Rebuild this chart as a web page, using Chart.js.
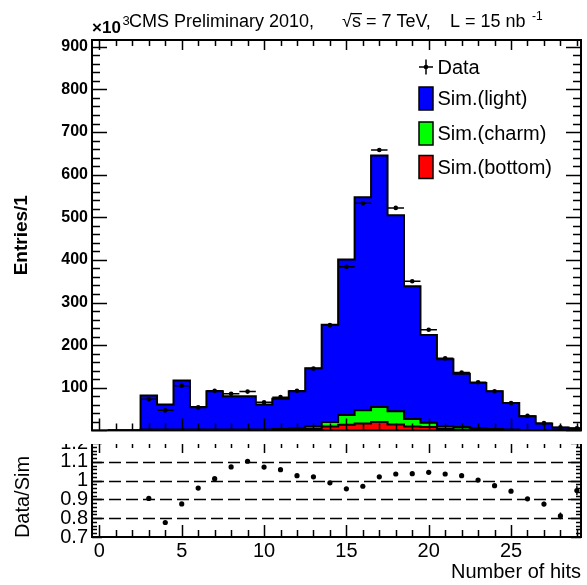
<!DOCTYPE html>
<html>
<head>
<meta charset="utf-8">
<script src="https://cdn.jsdelivr.net/npm/chart.js@4.4.0/dist/chart.umd.min.js"></script>
<style>
  body { margin: 0; background: #fff; }
  #wrap { position: relative; width: 587px; height: 585px; }
  canvas { position: absolute; left: 0; top: 0; }
  #ratio { z-index: 1; }
  #hits { z-index: 2; background: #fff; }
</style>
</head>
<body>
<div id="wrap">
  <canvas id="ratio" width="587" height="585"></canvas>
  <canvas id="hits" width="587" height="444"></canvas>
</div>
<script>
const FONT = "'Liberation Sans', Arial, sans-serif";
Chart.defaults.font.family = FONT;
Chart.defaults.color = '#000';

// number of hits, one bin per integer
const hitBins = [1, 2, 3, 4, 5, 6, 7, 8, 9, 10, 11, 12, 13, 14, 15, 16, 17, 18, 19, 20, 21, 22, 23, 24, 25, 26, 27, 28, 29];
// simulated entries (x10^3), split by flavour
const simLight = [0, 0, 80, 59, 115, 53, 90, 78, 78, 59, 71, 87, 137, 228, 365, 500, 590, 460, 311, 206, 158, 125, 106, 89, 62, 32, 16, 7, 5];
const simCharm = [0, 0, 1, 1, 1, 1, 1, 1, 1, 1, 2, 3, 6, 11, 23, 31, 35, 31, 18, 10, 6, 6, 4, 2, 1, 1, 0, 0, 0];
const simBottom = [0, 0, 1, 1, 1, 1, 1, 1, 1, 1, 1, 2, 3, 9, 13, 16, 20, 14, 9, 8, 3, 2, 1, 1, 1, 0, 0, 0, 0];

// measured entries (x10^3)
const dataBins = [3, 4, 5, 6, 7, 8, 9, 10, 11, 12, 13, 14, 15, 16, 17, 18, 19, 20, 21, 22, 23, 24, 25, 26, 27, 28, 29];
const dataCounts = [73, 47, 105, 54, 93, 86, 91, 66, 78, 93, 145, 247, 384, 533, 658, 522, 350, 236, 169, 136, 113, 92, 64, 34, 17, 7, 5];

// data / simulation
const ratioVals = [0.905, 0.777, 0.876, 0.96, 1.01, 1.073, 1.103, 1.072, 1.058, 1.026, 1.02, 0.988, 0.956, 0.97, 1.02, 1.035, 1.037, 1.044, 1.035, 1.026, 1.003, 0.973, 0.944, 0.903, 0.875, 0.812, 0.947];
const ratioErr = [0.006, 0.007, 0.006, 0.007, 0.006, 0.006, 0.006, 0.006, 0.006, 0.006, 0.005, 0.004, 0.003, 0.003, 0.003, 0.003, 0.003, 0.004, 0.004, 0.005, 0.005, 0.006, 0.007, 0.009, 0.012, 0.018, 0.025];

// axis ticks
const xTicks = [0, 5, 10, 15, 20, 25];
const yTicks = [100, 200, 300, 400, 500, 600, 700, 800, 900];
const ratioTicks = [0.7, 0.8, 0.9, 1, 1.1, 1.2];
const ratioLines = [0.8, 0.9, 1, 1.1];

// stacked contours: bottom, bottom+charm, bottom+charm+light
const cumBottom = simBottom.slice();
const cumCharm = simBottom.map((v, i) => v + simCharm[i]);
const cumLight = cumCharm.map((v, i) => v + simLight[i]);

// histogram outline: one point per low bin edge, closed at the last upper edge
function toSteps(vals) {
  const pts = hitBins.map((b, i) => ({ x: b - 0.5, y: vals[i] }));
  pts.push({ x: hitBins[hitBins.length - 1] + 0.5, y: 0 });
  return pts;
}

// frame with inward ticks on all sides, ROOT style
const frameTicks = {
  id: 'frameTicks',
  afterDatasetsDraw(chart, args, o) {
    const { ctx, chartArea: a, scales } = chart;
    const xs = scales.x, ys = scales.y;
    ctx.save();
    ctx.strokeStyle = '#000';
    ctx.lineWidth = 1.5;
    ctx.beginPath();
    for (let v = Math.ceil(xs.min); v <= xs.max; v++) {
      const px = Math.round(xs.getPixelForValue(v)) + 0.5;
      const major = v % 5 === 0;
      const lb = major ? o.xMajor : o.xMinor;
      const lt = major ? o.xTopMajor : o.xTopMinor;
      ctx.moveTo(px, a.bottom); ctx.lineTo(px, a.bottom - lb);
      ctx.moveTo(px, a.top); ctx.lineTo(px, a.top + lt);
    }
    const k0 = Math.ceil(ys.min / o.yMinorStep - 1e-6);
    const k1 = Math.floor(ys.max / o.yMinorStep + 1e-6);
    for (let k = k0; k <= k1; k++) {
      const v = k * o.yMinorStep;
      const r = v / o.yMajorStep;
      const major = Math.abs(r - Math.round(r)) < 1e-6;
      const len = major ? o.yMajor : o.yMinor;
      const py = Math.round(ys.getPixelForValue(v)) + 0.5;
      ctx.moveTo(a.left, py); ctx.lineTo(a.left + len, py);
      ctx.moveTo(a.right, py); ctx.lineTo(a.right - len, py);
    }
    ctx.stroke();
    ctx.lineWidth = 2;
    ctx.strokeRect(a.left, a.top, a.right - a.left, a.bottom - a.top);
    ctx.restore();
  }
};

// horizontal bin-width bars on the data points
const binBars = {
  id: 'binBars',
  afterDatasetsDraw(chart) {
    const { ctx, scales } = chart;
    const xs = scales.x, ys = scales.y;
    ctx.save();
    ctx.strokeStyle = '#000';
    ctx.lineWidth = 1.5;
    ctx.beginPath();
    dataBins.forEach((b, i) => {
      const py = ys.getPixelForValue(dataCounts[i]);
      ctx.moveTo(xs.getPixelForValue(b - 0.5), py);
      ctx.lineTo(Math.min(xs.getPixelForValue(b + 0.5), chart.chartArea.right), py);
    });
    ctx.stroke();
    ctx.restore();
  }
};

// legend in the upper right corner
const boxLegend = {
  id: 'boxLegend',
  afterDraw(chart) {
    const ctx = chart.ctx;
    const ds = chart.data.datasets;
    const items = [ds[0], ds[3], ds[2], ds[1]];
    const x0 = 419, rowY = [67, 98.5, 133.5, 167];
    ctx.save();
    ctx.font = '20px ' + FONT;
    ctx.textBaseline = 'middle';
    ctx.fillStyle = '#000';
    items.forEach((d, i) => {
      const cy = rowY[i];
      if (i === 0) {
        ctx.strokeStyle = '#000';
        ctx.lineWidth = 1.5;
        ctx.beginPath();
        ctx.moveTo(x0, cy); ctx.lineTo(x0 + 14, cy);
        ctx.moveTo(x0 + 7, cy - 7.5); ctx.lineTo(x0 + 7, cy + 7.5);
        ctx.stroke();
        ctx.beginPath();
        ctx.arc(x0 + 7, cy, 2.3, 0, Math.PI * 2);
        ctx.fill();
      } else {
        ctx.fillStyle = d.backgroundColor;
        ctx.fillRect(x0, cy - 11.5, 14, 23);
        ctx.strokeStyle = '#000';
        ctx.lineWidth = 1.5;
        ctx.strokeRect(x0, cy - 11.5, 14, 23);
        ctx.fillStyle = '#000';
      }
      ctx.fillText(d.label, 437.5, cy + 1);
    });
    ctx.restore();
  }
};

// exponent and run information above the frame
const headerText = {
  id: 'headerText',
  afterDraw(chart) {
    const ctx = chart.ctx;
    const a = chart.chartArea;
    ctx.save();
    ctx.fillStyle = '#000';
    ctx.textAlign = 'left';
    ctx.textBaseline = 'alphabetic';
    ctx.font = 'bold 17px ' + FONT;
    ctx.fillText('×10', a.left, 33);
    ctx.font = '13px ' + FONT;
    ctx.fillText('3', a.left + 30.5, 25);
    ctx.font = '18px ' + FONT;
    ctx.fillText('CMS Preliminary 2010,', 129, 27);
    ctx.fillText('√s = 7 TeV,', 342, 27);
    const rw = ctx.measureText('√').width;
    const sw = ctx.measureText('s').width;
    ctx.fillRect(342 + rw - 1, 13, sw + 2, 1.3);
    ctx.fillText('L = 15 nb', 450, 27);
    ctx.font = '12px ' + FONT;
    ctx.fillText('-1', 532, 20);
    ctx.restore();
  }
};

// dashed reference lines, vertical error bars and the ratio axis title
const ratioDecor = {
  id: 'ratioDecor',
  beforeDatasetsDraw(chart) {
    const { ctx, chartArea: a, scales } = chart;
    ctx.save();
    ctx.strokeStyle = '#000';
    ctx.lineWidth = 1.4;
    ctx.setLineDash([12, 5]);
    ratioLines.forEach(v => {
      const py = Math.round(scales.y.getPixelForValue(v)) + 0.5;
      ctx.beginPath();
      ctx.moveTo(a.left, py);
      ctx.lineTo(a.right, py);
      ctx.stroke();
    });
    ctx.setLineDash([]);
    ctx.beginPath();
    dataBins.forEach((b, i) => {
      const px = scales.x.getPixelForValue(b);
      ctx.moveTo(px, scales.y.getPixelForValue(ratioVals[i] - ratioErr[i]));
      ctx.lineTo(px, scales.y.getPixelForValue(ratioVals[i] + ratioErr[i]));
    });
    ctx.stroke();
    ctx.translate(23, 497);
    ctx.rotate(-Math.PI / 2);
    ctx.font = '20px ' + FONT;
    ctx.fillStyle = '#000';
    ctx.textAlign = 'center';
    ctx.textBaseline = 'middle';
    ctx.fillText(chart.data.datasets[0].label, 0, 0);
    ctx.restore();
  }
};

const histLine = {
  stepped: true,
  borderColor: '#000',
  borderWidth: 2,
  pointRadius: 0,
  tension: 0
};

new Chart(document.getElementById('hits'), {
  type: 'line',
  data: {
    datasets: [
      {
        label: 'Data',
        data: dataBins.map((b, i) => ({ x: b, y: dataCounts[i] })),
        showLine: false,
        pointRadius: 2.3,
        pointBorderWidth: 0,
        pointBackgroundColor: '#000',
        backgroundColor: '#000'
      },
      Object.assign({ label: 'Sim.(bottom)', data: toSteps(cumBottom), backgroundColor: '#ff0000', fill: 'origin' }, histLine),
      Object.assign({ label: 'Sim.(charm)', data: toSteps(cumCharm), backgroundColor: '#00ff00', fill: '-1' }, histLine),
      Object.assign({ label: 'Sim.(light)', data: toSteps(cumLight), backgroundColor: '#0000ff', fill: '-1' }, histLine)
    ]
  },
  options: {
    responsive: false,
    animation: false,
    layout: { padding: { top: 40, right: 6, bottom: 1, left: 0 } },
    plugins: {
      legend: { display: false },
      tooltip: { enabled: false },
      frameTicks: { xMajor: 12, xMinor: 7, xTopMajor: 10, xTopMinor: 6, yMajor: 15, yMinor: 8, yMajorStep: 100, yMinorStep: 20 }
    },
    scales: {
      x: { type: 'linear', min: -0.45, max: 29.25, display: false },
      y: {
        type: 'linear',
        min: 0,
        max: 916,
        afterFit: s => { s.width = 92; },
        afterBuildTicks: s => { s.ticks = yTicks.map(v => ({ value: v })); },
        grid: { display: false, drawTicks: false },
        border: { display: false },
        ticks: { autoSkip: false, padding: 4, color: '#000', font: { size: 16, weight: 'bold' } },
        title: { display: true, text: 'Entries/1', color: '#000', font: { size: 19, weight: 'bold' }, padding: { top: 10, bottom: 0 } }
      }
    }
  },
  plugins: [binBars, frameTicks, boxLegend, headerText]
});

new Chart(document.getElementById('ratio'), {
  type: 'scatter',
  data: {
    datasets: [{
      label: 'Data/Sim',
      data: dataBins.map((b, i) => ({ x: b, y: ratioVals[i] })),
      pointRadius: 2.6,
      pointBorderWidth: 0,
      pointBackgroundColor: '#000'
    }]
  },
  options: {
    responsive: false,
    animation: false,
    layout: { padding: { top: 443, right: 6, bottom: 0, left: 0 } },
    plugins: {
      legend: { display: false },
      tooltip: { enabled: false },
      frameTicks: { xMajor: 12, xMinor: 7, xTopMajor: 10, xTopMinor: 5, yMajor: 10, yMinor: 5, yMajorStep: 0.1, yMinorStep: 0.02 }
    },
    scales: {
      x: {
        type: 'linear',
        min: -0.45,
        max: 29.25,
        afterFit: s => { s.height = 48; },
        afterBuildTicks: s => { s.ticks = xTicks.map(v => ({ value: v })); },
        grid: { display: false, drawTicks: false },
        border: { display: false },
        ticks: { autoSkip: false, padding: 2, maxRotation: 0, color: '#000', font: { size: 20 } },
        title: { display: true, text: 'Number of hits', align: 'end', color: '#000', font: { size: 20 }, padding: { top: 0, bottom: 1 } }
      },
      y: {
        type: 'linear',
        min: 0.7,
        max: 1.2,
        afterFit: s => { s.width = 92; },
        afterBuildTicks: s => { s.ticks = ratioTicks.map(v => ({ value: v })); },
        grid: { display: false, drawTicks: false },
        border: { display: false },
        ticks: { autoSkip: false, padding: 4, color: '#000', font: { size: 20 }, callback: v => String(Math.round(v * 10) / 10) }
      }
    }
  },
  plugins: [ratioDecor, frameTicks]
});
</script>
</body>
</html>
